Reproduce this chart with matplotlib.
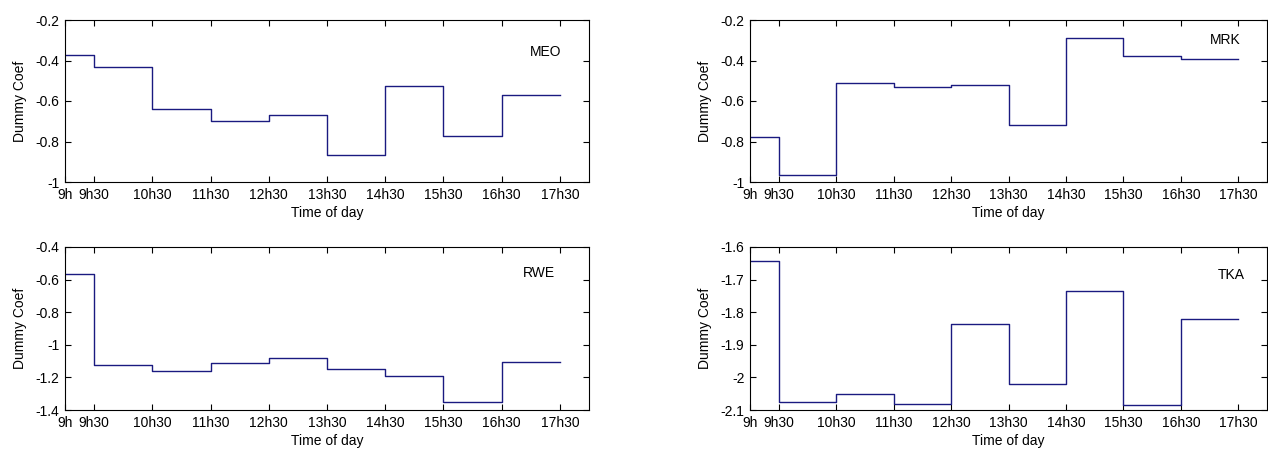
import matplotlib.pyplot as plt
import numpy as np

# segment edges (hours) and tick labels
edges = [9, 9.5, 10.5, 11.5, 12.5, 13.5, 14.5, 15.5, 16.5, 17.5]
tick_labels = ["9h", "9h30", "10h30", "11h30", "12h30", "13h30", "14h30", "15h30", "16h30", "17h30"]

meo = [-0.375, -0.432, -0.641, -0.701, -0.667, -0.866, -0.525, -0.773, -0.569]
mrk = [-0.778, -0.964, -0.510, -0.532, -0.522, -0.720, -0.287, -0.376, -0.393]
rwe = [-0.568, -1.123, -1.158, -1.109, -1.080, -1.150, -1.191, -1.351, -1.103]
tka = [-1.642, -2.076, -2.052, -2.083, -1.837, -2.021, -1.736, -2.086, -1.820]

names = ["MEO", "MRK", "RWE", "TKA"]
series = [meo, mrk, rwe, tka]
ylims = [(-1, -0.2), (-1, -0.2), (-1.4, -0.4), (-2.1, -1.6)]
ysteps = [0.2, 0.2, 0.2, 0.1]
label_pos = [(0.918, 0.80), (0.92, 0.875), (0.905, 0.84), (0.93, 0.83)]

W, H = 1268, 450
boxes = [(65, 20, 589, 182), (750, 20, 1267, 182),
         (65, 247, 589, 410), (750, 247, 1267, 410)]

plt.rcParams['font.family'] = ['Liberation Sans', 'DejaVu Sans']
plt.rcParams['font.size'] = 10

fig = plt.figure(figsize=(W / 100, H / 100), dpi=100)
for k in range(4):
    x0, y0, x1, y1 = boxes[k]
    ax = fig.add_axes([x0 / W, 1 - y1 / H, (x1 - x0) / W, (y1 - y0) / H])
    vals = series[k] + [series[k][-1]]
    ax.step(edges, vals, where='post', color='#1a1a80', lw=1.0)
    ax.set_xlim(9, 18)
    ax.set_ylim(*ylims[k])
    ax.set_xticks(edges)
    ax.set_xticklabels(tick_labels)
    lo, hi = ylims[k]
    yt = np.round(np.arange(lo, hi + ysteps[k] / 2, ysteps[k]), 2)
    ax.set_yticks(yt)
    ax.set_yticklabels(["%g" % v for v in yt])
    ax.tick_params(direction='in', top=True, right=True, length=4, width=0.8)
    ax.tick_params(axis='x', pad=4.5)
    ax.tick_params(axis='y', pad=4)
    for s in ax.spines.values():
        s.set_linewidth(0.8)
    ax.set_xlabel("Time of day", labelpad=3)
    ax.set_ylabel("Dummy Coef", labelpad=6)
    ax.text(label_pos[k][0], label_pos[k][1], names[k], transform=ax.transAxes,
            ha='center', va='center')

fig.savefig("out.png", dpi=100)
